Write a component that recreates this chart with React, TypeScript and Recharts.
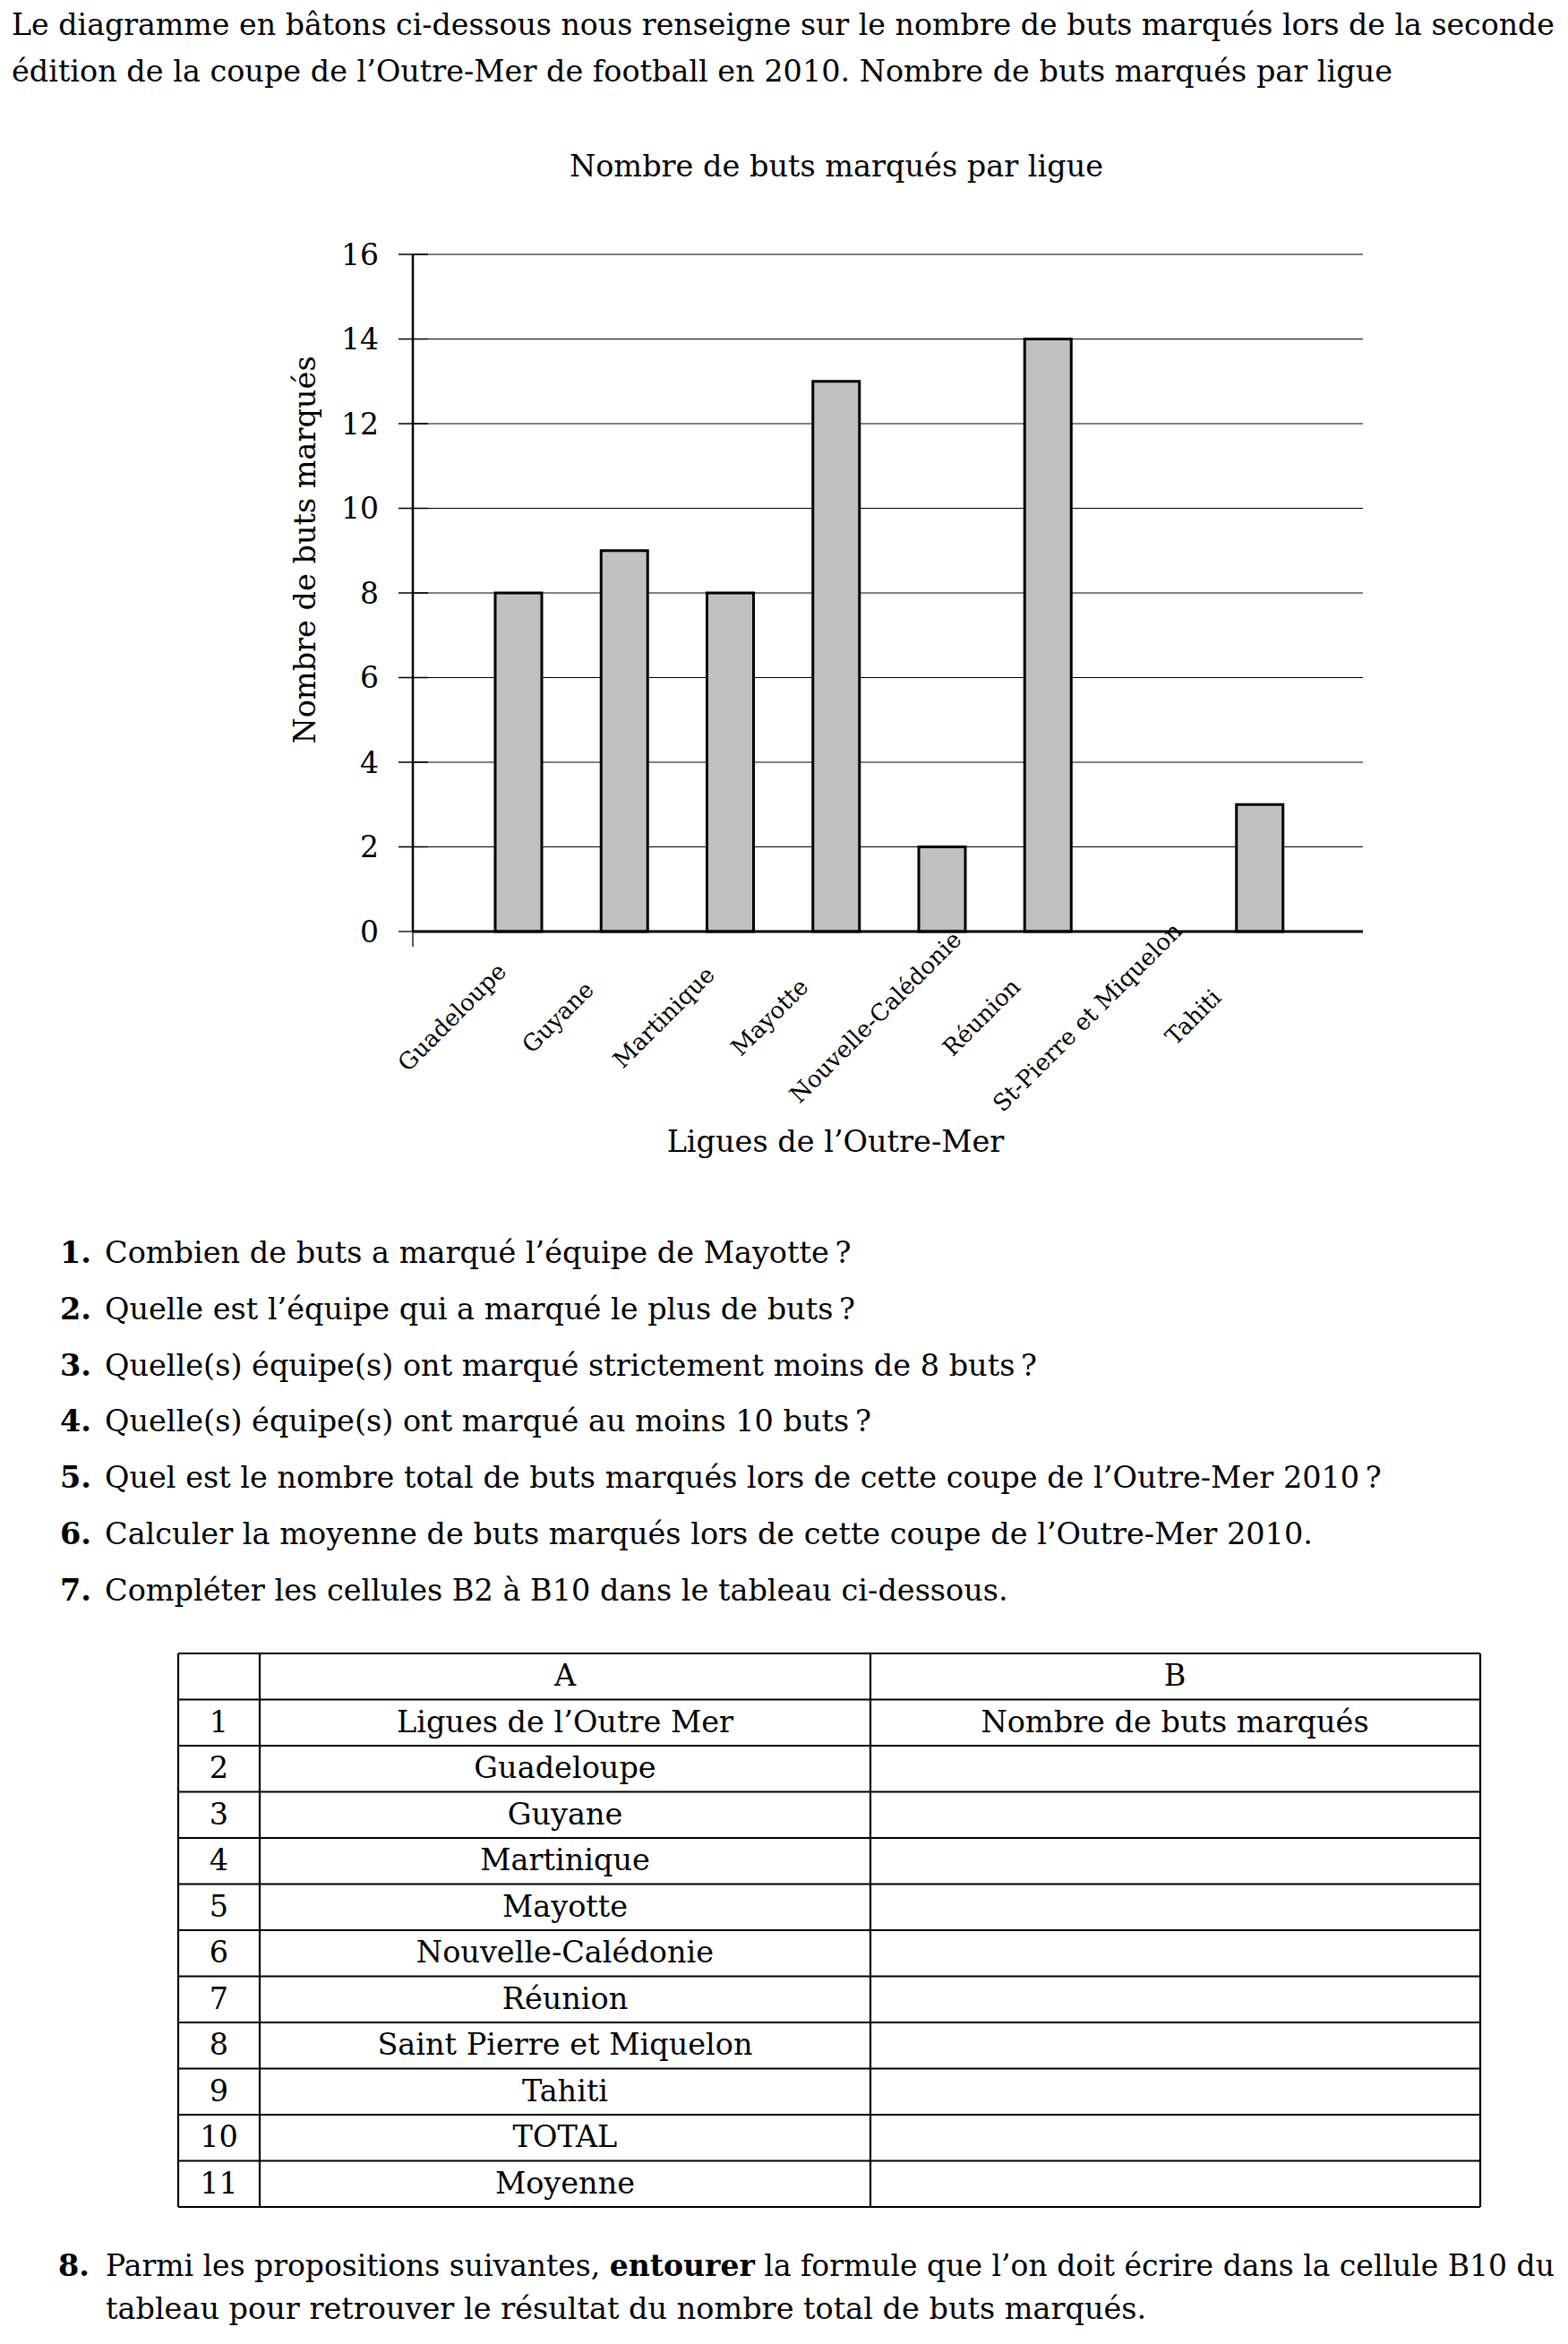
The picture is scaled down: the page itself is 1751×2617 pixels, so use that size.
import React from "react";
import { BarChart, Bar, XAxis, YAxis, CartesianGrid } from "recharts";

const ligues = [
  "Guadeloupe",
  "Guyane",
  "Martinique",
  "Mayotte",
  "Nouvelle-Calédonie",
  "Réunion",
  "St-Pierre et Miquelon",
  "Tahiti",
];
const buts = [8, 9, 8, 13, 2, 14, 0, 3];
const graduations = [0, 2, 4, 6, 8, 10, 12, 14, 16];

const intro = [
  "Le diagramme en bâtons ci-dessous nous renseigne sur le nombre de buts marqués lors de la seconde",
  "édition de la coupe de l’Outre-Mer de football en 2010. Nombre de buts marqués par ligue",
];

const questions = [
  "Combien de buts a marqué l’équipe de Mayotte\u202F?",
  "Quelle est l’équipe qui a marqué le plus de buts\u202F?",
  "Quelle(s) équipe(s) ont marqué strictement moins de 8 buts\u202F?",
  "Quelle(s) équipe(s) ont marqué au moins 10 buts\u202F?",
  "Quel est le nombre total de buts marqués lors de cette coupe de l’Outre-Mer 2010\u202F?",
  "Calculer la moyenne de buts marqués lors de cette coupe de l’Outre-Mer 2010.",
  "Compléter les cellules B2 à B10 dans le tableau ci-dessous.",
];

const colonneA = [
  "Ligues de l’Outre Mer",
  "Guadeloupe",
  "Guyane",
  "Martinique",
  "Mayotte",
  "Nouvelle-Calédonie",
  "Réunion",
  "Saint Pierre et Miquelon",
  "Tahiti",
  "TOTAL",
  "Moyenne",
];

const donnees = ligues.map((ligue, i) => ({ ligue, buts: buts[i] }));

const police = "'DejaVu Serif', 'Liberation Serif', serif";

const TickY = (props: any) => {
  const { x, y, payload } = props;
  const axe = x + 38;
  const zero = payload.value === 0;
  return (
    <g>
      <line x1={axe - 16} y1={y} x2={zero ? axe : axe + 17} y2={y} stroke="#000" strokeWidth={1.3} />
      {zero && <line x1={axe} y1={y} x2={axe} y2={y + 17} stroke="#000" strokeWidth={1.3} />}
      <text x={x} y={y} dy="0.36em" textAnchor="end" fontSize={33} fontFamily={police} fill="#000">
        {payload.value}
      </text>
    </g>
  );
};

const TickX = (props: any) => {
  const { x, y, payload } = props;
  const cx = x - 74;
  const cy = y + 96;
  return (
    <text
      x={cx}
      y={cy}
      dy="0.32em"
      textAnchor="middle"
      fontSize={26}
      fontFamily={police}
      fill="#000"
      transform={`rotate(-45, ${cx}, ${cy})`}
    >
      {payload.value}
    </text>
  );
};

// tableau : 12 lignes
const tabHaut = 1846;
const tabLigne = 51.5;
const tabCols = [199, 290, 972, 1653];

export default function App() {
  const lignesY = Array.from({ length: 13 }, (_, i) => tabHaut + i * tabLigne);
  return (
    <div style={{ position: "absolute", left: 0, top: 0, width: 1751, height: 2617, background: "#fff" }}>
      <svg
        width={1751}
        height={2617}
        style={{ position: "absolute", left: 0, top: 0 }}
        fontFamily={police}
        fontSize={33.5}
        fill="#000"
      >
        <text x={13} y={39} textLength={1723} lengthAdjust="spacingAndGlyphs">{intro[0]}</text>
        <text x={13} y={91} textLength={1542} lengthAdjust="spacingAndGlyphs">{intro[1]}</text>

        <text x={934} y={197} textAnchor="middle">Nombre de buts marqués par ligue</text>
        <text transform="translate(352,614) rotate(-90)" textAnchor="middle">Nombre de buts marqués</text>
        <text x={933} y={1286} textAnchor="middle">Ligues de l’Outre-Mer</text>

        {questions.map((q, i) => (
          <g key={i}>
            <text x={67} y={1410 + i * 62.8} fontWeight="bold">{i + 1}.</text>
            <text x={117} y={1410 + i * 62.8}>{q}</text>
          </g>
        ))}

        {/* tableau */}
        {lignesY.map((ly, i) => (
          <line key={"h" + i} x1={tabCols[0]} x2={tabCols[3]} y1={ly} y2={ly} stroke="#000" strokeWidth={2.2} />
        ))}
        {tabCols.map((cx, i) => (
          <line key={"v" + i} x1={cx} x2={cx} y1={tabHaut} y2={lignesY[12]} stroke="#000" strokeWidth={2.2} />
        ))}
        <text x={631} y={tabHaut + 36} textAnchor="middle">A</text>
        <text x={1312} y={tabHaut + 36} textAnchor="middle">B</text>
        {colonneA.map((t, i) => (
          <g key={"r" + i}>
            <text x={244.5} y={tabHaut + (i + 1) * tabLigne + 36} textAnchor="middle">{i + 1}</text>
            <text x={631} y={tabHaut + (i + 1) * tabLigne + 36} textAnchor="middle">{t}</text>
          </g>
        ))}
        <text x={1312} y={tabHaut + tabLigne + 36} textAnchor="middle">Nombre de buts marqués</text>

        <text x={65} y={2541} fontWeight="bold">8.</text>
        <text x={118} y={2541} textLength={1618} lengthAdjust="spacingAndGlyphs">
          Parmi les propositions suivantes, <tspan fontWeight="bold">entourer</tspan> la formule que l’on doit écrire dans la cellule B10 du
        </text>
        <text x={118} y={2589}>tableau pour retrouver le résultat du nombre total de buts marqués.</text>
      </svg>

      <div style={{ position: "absolute", left: 0, top: 240 }}>
        <BarChart
          width={1600}
          height={1100}
          data={donnees}
          margin={{ top: 44, right: 78, bottom: 0, left: 0 }}
          barCategoryGap={0}
        >
          <CartesianGrid vertical={false} stroke="#000" strokeWidth={1} />
          <XAxis
            dataKey="ligue"
            height={300}
            interval={0}
            padding={{ left: 59, right: 56 }}
            tickLine={false}
            tickSize={0}
            tickMargin={0}
            axisLine={{ stroke: "#000", strokeWidth: 3 }}
            tick={<TickX />}
          />
          <YAxis
            width={461}
            domain={[0, 16]}
            ticks={graduations}
            interval={0}
            tickLine={false}
            tickSize={16}
            tickMargin={22}
            axisLine={{ stroke: "#000", strokeWidth: 2.5 }}
            tick={<TickY />}
          />
          <Bar
            dataKey="buts"
            barSize={52}
            fill="#c0c0c0"
            stroke="#000"
            strokeWidth={3}
            isAnimationActive={false}
          />
        </BarChart>
      </div>
    </div>
  );
}
